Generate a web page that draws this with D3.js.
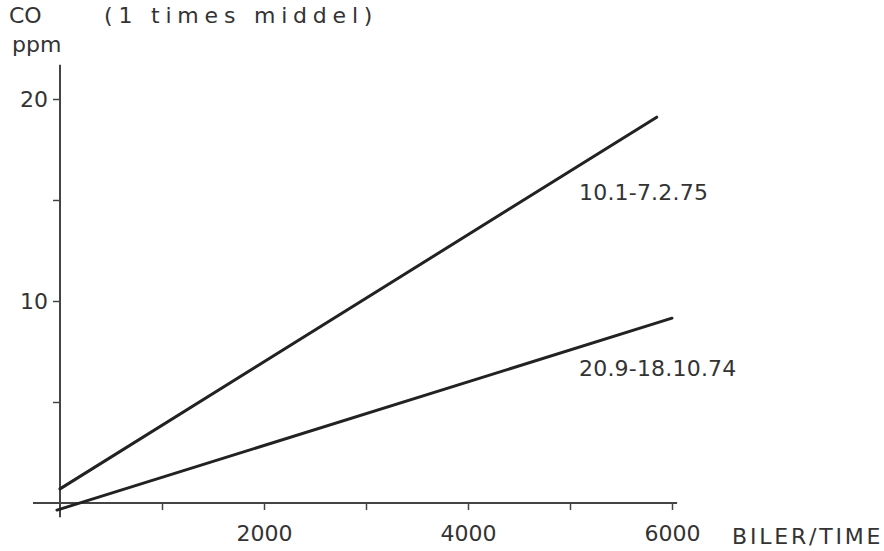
<!DOCTYPE html>
<html>
<head>
<meta charset="utf-8">
<script src="https://cdn.jsdelivr.net/npm/d3@7"></script>
<style>
  html, body { margin: 0; padding: 0; background: #fff; }
  text { font-family: "DejaVu Sans", sans-serif; fill: #333; }
</style>
</head>
<body>
<svg id="chart" width="884" height="551"></svg>
<script>
// CO concentration (hourly mean) against traffic volume, two measuring periods
const periods = ["10.1-7.2.75", "20.9-18.10.74"];
const trafficStart = [0, -30];        // cars per hour at line start
const trafficEnd = [5850, 6000];      // cars per hour at line end
const coStart = [0.7, -0.35];         // ppm at line start
const coEnd = [19.1, 9.15];           // ppm at line end
const labelAt = [[5000, 15.0], [5000, 6.3]]; // label anchor (cars/h, ppm)

const xTicksMajor = [2000, 4000, 6000];
const xTicksAll = [1000, 2000, 3000, 4000, 5000, 6000];
const yTicksMajor = [10, 20];
const yTicksAll = [5, 10, 15, 20];

const svg = d3.select("#chart");
const x = d3.scaleLinear().domain([0, 6000]).range([60, 672]);
const y = d3.scaleLinear().domain([0, 20]).range([503, 99]);

const axisColor = "#444";

// x axis
const xAxis = d3.axisBottom(x)
  .tickValues(xTicksAll)
  .tickSize(7)
  .tickFormat(d => xTicksMajor.includes(d) ? d : "");
const gx = svg.append("g").attr("transform", `translate(0,${y(0)})`).call(xAxis);
gx.select(".domain").remove();
gx.selectAll(".tick line").attr("stroke", axisColor).attr("stroke-width", 1.5);
gx.selectAll(".tick text").attr("font-size", 22).attr("dy", "1.25em").attr("fill", "#333");
svg.append("line")
  .attr("x1", x(-265)).attr("x2", x(6050))
  .attr("y1", y(0)).attr("y2", y(0))
  .attr("stroke", axisColor).attr("stroke-width", 2);

// y axis
const yAxis = d3.axisLeft(y)
  .tickValues(yTicksAll)
  .tickSize(7)
  .tickPadding(5)
  .tickFormat(d => yTicksMajor.includes(d) ? d : "");
const gy = svg.append("g").attr("transform", `translate(${x(0)},0)`).call(yAxis);
gy.select(".domain").remove();
gy.selectAll(".tick line").attr("stroke", axisColor).attr("stroke-width", 1.5);
gy.selectAll(".tick text").attr("font-size", 22).attr("fill", "#333");
svg.append("line")
  .attr("x1", x(0)).attr("x2", x(0))
  .attr("y1", y(21.7)).attr("y2", y(-0.7))
  .attr("stroke", axisColor).attr("stroke-width", 2);

// regression lines
periods.forEach((p, i) => {
  svg.append("line")
    .attr("x1", x(trafficStart[i])).attr("y1", y(coStart[i]))
    .attr("x2", x(trafficEnd[i])).attr("y2", y(coEnd[i]))
    .attr("stroke", "#222").attr("stroke-width", 3).attr("stroke-linecap", "round");
  svg.append("text")
    .attr("x", x(labelAt[i][0]) + 9).attr("y", y(labelAt[i][1]))
    .attr("font-size", 22).attr("letter-spacing", 0.2)
    .text(p);
});

// axis titles
svg.append("text").attr("x", 9).attr("y", 23).attr("font-size", 22).text("CO");
svg.append("text").attr("x", 12).attr("y", 52).attr("font-size", 22).text("ppm");
svg.append("text").attr("x", 104).attr("y", 23).attr("font-size", 22)
  .attr("letter-spacing", 5.8).text("(1 times middel)");
svg.append("text").attr("x", 732).attr("y", 544).attr("font-size", 22)
  .attr("letter-spacing", 2.8).text("BILER/TIME");
</script>
</body>
</html>
